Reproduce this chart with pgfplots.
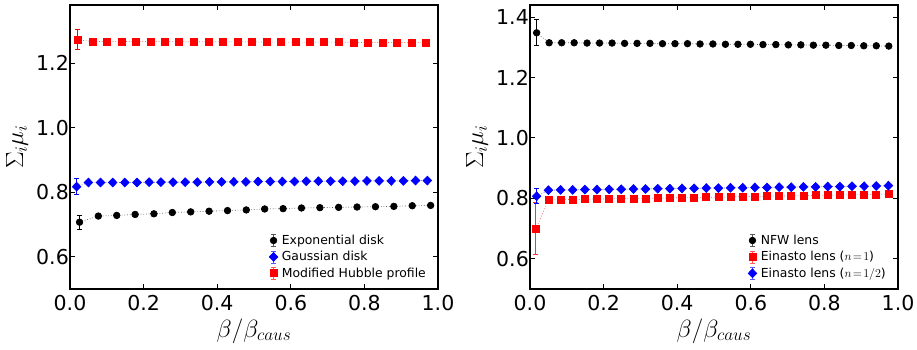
\documentclass[border=0pt]{standalone}
\usepackage{pgfplots}
\pgfplotsset{compat=1.18}
\usepackage{fontspec}
\setmainfont{DejaVu Sans}

\pgfplotsset{
  myax/.style={
    scale only axis, width=368pt, height=284pt,
    xmin=0, xmax=1, ymin=0.5,
    axis line style={line width=1.6pt},
    tick align=inside, major tick length=5pt,
    every tick/.style={black, line width=0.9pt},
    xtick={0,0.2,0.4,0.6,0.8,1},
    tick label style={font=\fontsize{20.5}{24}\selectfont},
    /pgf/number format/.cd, fixed, fixed zerofill, precision=1, assume math mode=true, /pgfplots/.cd,
    xticklabel style={anchor=north, inner sep=0pt, yshift=-6pt},
    yticklabel style={anchor=east, inner sep=0pt, xshift=-1pt},
    xlabel={$\beta/\beta_{caus}$},
    ylabel={$\Sigma_i\mu_i$},
    every axis x label/.style={at={(axis description cs:0.5,-0.148)}, anchor=center, font=\fontsize{24}{28}\selectfont},
    every axis y label/.style={at={(axis description cs:-0.144,0.5)}, anchor=center, rotate=90, font=\fontsize{24}{28}\selectfont},
    legend style={draw=none, fill=none, font=\fontsize{12.4}{14}\selectfont, legend cell align=left,
      at={(axis description cs:1,0)}, anchor=south east, xshift=-7pt, yshift=6pt, row sep=1.5pt, column sep=2pt},
    legend image code/.code={
      \draw[solid, line width=0.8pt] (0pt,-6pt) -- (0pt,6pt) (-2.5pt,-6pt) -- (2.5pt,-6pt) (-2.5pt,6pt) -- (2.5pt,6pt);
      \draw[mark repeat=2, mark phase=2] plot coordinates {(-0.01pt,0pt) (0pt,0pt) (0.01pt,0pt)};
    },
  },
  errb/.style={forget plot, only marks, mark=none, error bars/.cd, y dir=both, y explicit, error mark=-,
    error bar style={#1, line width=0.9pt, solid}, error mark options={rotate=90, #1, line width=0.9pt, mark size=2.5pt}},
  sblk/.style={draw=black!65, dotted, line width=0.7pt, mark=*, mark size=3.3pt, mark options={solid, fill=black, draw=black}},
  sred/.style={draw=red!65, dotted, line width=0.7pt, mark=square*, mark size=3.5pt, mark options={solid, fill=red, draw=red}},
  sblu/.style={draw=blue!65, dotted, line width=0.7pt, mark=diamond*, mark size=4.4pt, mark options={solid, fill=blue, draw=blue, xscale=1.3}},
}

\begin{document}
\begin{tikzpicture}
\path[use as bounding box] (-70pt,-61pt) rectangle (847pt,289pt);

% ---------------- Left panel ----------------
\begin{axis}[myax, at={(0pt,0pt)}, anchor=south west, ymax=1.38,
  ytick={0.6,0.8,1.0,1.2},
  legend entries={Exponential disk, Gaussian disk, Modified Hubble profile}]
\addplot[errb=black] coordinates {(0.026,0.707) +- (0,0.021)};
\addplot[sblk] coordinates {
(0.026,0.707) (0.077,0.726) (0.127,0.728) (0.177,0.731) (0.228,0.733) (0.278,0.737)
(0.328,0.739) (0.378,0.741) (0.428,0.743) (0.479,0.745) (0.529,0.748) (0.579,0.749)
(0.629,0.751) (0.679,0.752) (0.730,0.753) (0.780,0.754) (0.830,0.755) (0.880,0.756)
(0.930,0.758) (0.980,0.759)};
\addplot[errb=blue] coordinates {(0.018,0.817) +- (0,0.025)};
\addplot[sblu] coordinates {
(0.018,0.817) (0.050,0.830) (0.083,0.830) (0.116,0.830) (0.149,0.830) (0.182,0.830)
(0.215,0.831) (0.247,0.831) (0.280,0.831) (0.313,0.831) (0.346,0.831) (0.379,0.832)
(0.412,0.832) (0.445,0.832) (0.478,0.832) (0.511,0.833) (0.544,0.833) (0.577,0.833)
(0.610,0.833) (0.642,0.834) (0.675,0.834) (0.708,0.834) (0.741,0.834) (0.774,0.834)
(0.807,0.835) (0.840,0.835) (0.873,0.835) (0.906,0.835) (0.939,0.836) (0.971,0.836)};
\addplot[errb=red] coordinates {(0.021,1.272) +- (0,0.031)};
\addplot[sred] coordinates {
(0.021,1.272) (0.061,1.267) (0.100,1.267) (0.140,1.267) (0.179,1.267) (0.219,1.267)
(0.258,1.267) (0.297,1.266) (0.337,1.266) (0.376,1.266) (0.416,1.266) (0.455,1.266)
(0.494,1.266) (0.534,1.265) (0.573,1.265) (0.613,1.265) (0.652,1.265) (0.691,1.265)
(0.731,1.265) (0.770,1.264) (0.810,1.264) (0.849,1.264) (0.888,1.264) (0.928,1.264)
(0.967,1.264)};
\end{axis}

% ---------------- Right panel ----------------
\begin{axis}[myax, at={(460pt,0pt)}, anchor=south west, ymax=1.44,
  ytick={0.6,0.8,1.0,1.2,1.4},
  legend entries={NFW lens, Einasto lens ($n\!=\!1$), Einasto lens ($n\!=\!1/2$)}]
\addplot[errb=black] coordinates {(0.018,1.348) +- (0,0.043)};
\addplot[sblk] coordinates {
(0.018,1.348) (0.052,1.315) (0.086,1.315) (0.120,1.315) (0.155,1.314) (0.189,1.314)
(0.223,1.314) (0.257,1.313) (0.291,1.313) (0.326,1.313) (0.360,1.312) (0.394,1.312)
(0.428,1.312) (0.462,1.311) (0.497,1.311) (0.531,1.310) (0.565,1.310) (0.599,1.310)
(0.633,1.309) (0.668,1.309) (0.702,1.308) (0.736,1.308) (0.770,1.307) (0.804,1.307)
(0.839,1.306) (0.873,1.306) (0.907,1.305) (0.941,1.305) (0.975,1.304)};
\addplot[errb=red!80] coordinates {(0.016,0.699) +- (0,0.086)};
\addplot[sred] coordinates {
(0.016,0.699) (0.050,0.795) (0.083,0.796) (0.116,0.796) (0.149,0.797) (0.182,0.798)
(0.215,0.798) (0.248,0.799) (0.281,0.800) (0.314,0.800) (0.347,0.801) (0.380,0.802)
(0.413,0.802) (0.446,0.803) (0.479,0.804) (0.512,0.804) (0.545,0.805) (0.578,0.806)
(0.611,0.806) (0.644,0.807) (0.677,0.808) (0.710,0.808) (0.743,0.809) (0.776,0.810)
(0.809,0.810) (0.842,0.811) (0.875,0.812) (0.908,0.812) (0.941,0.813) (0.974,0.814)};
\addplot[errb=blue] coordinates {(0.018,0.807) +- (0,0.025)};
\addplot[sblu] coordinates {
(0.018,0.807) (0.050,0.827) (0.083,0.828) (0.116,0.828) (0.149,0.829) (0.182,0.829)
(0.215,0.830) (0.248,0.830) (0.281,0.831) (0.314,0.831) (0.347,0.832) (0.380,0.832)
(0.413,0.833) (0.446,0.833) (0.479,0.834) (0.512,0.834) (0.545,0.835) (0.578,0.835)
(0.611,0.836) (0.644,0.836) (0.677,0.837) (0.710,0.837) (0.743,0.838) (0.776,0.838)
(0.809,0.839) (0.842,0.839) (0.875,0.840) (0.908,0.840) (0.941,0.841) (0.974,0.842)};
\end{axis}
\end{tikzpicture}
\end{document}
